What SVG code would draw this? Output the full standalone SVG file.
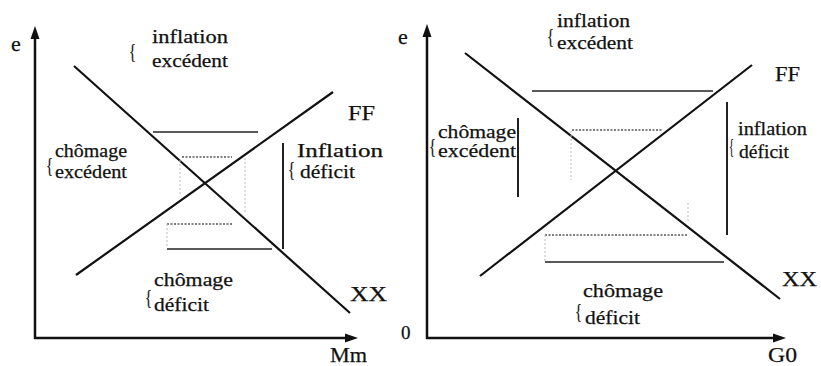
<svg xmlns="http://www.w3.org/2000/svg" width="821" height="366" viewBox="0 0 821 366">
<style>
text{font-family:"Liberation Serif","Times New Roman",serif;fill:#111;stroke:#111;stroke-width:0.25;font-size:19px}
.br{font-size:22px}
.lab{font-size:21px}
.ax{font-size:22px}
.sm{font-size:18px}
.axis{stroke:#111;stroke-width:2.5;fill:none}
.head{fill:#111;stroke:none}
.curve{stroke:#111;stroke-width:2.2;fill:none}
.solid{stroke:#222;stroke-width:1.6;fill:none}
.vert{stroke:#222;stroke-width:2;fill:none}
.dot{stroke:#555;stroke-width:1.4;stroke-dasharray:2 1.5;fill:none}
.faint{stroke:#bbb;stroke-width:1;stroke-dasharray:2 2;fill:none}
</style>
<rect width="821" height="366" fill="#fff"/>

<g id="panel-left">
  <g id="left-axes">
    <line class="axis" x1="35" y1="339" x2="35" y2="36"/>
    <polygon class="head" points="35,26 30.5,39 39.5,39"/>
    <line class="axis" x1="34" y1="338" x2="348" y2="338"/>
    <polygon class="head" points="358,338 345,333.5 345,342.5"/>
    <text class="ax" x="11" y="51">e</text>
    <text class="ax" x="330" y="362" textLength="37" lengthAdjust="spacingAndGlyphs">Mm</text>
  </g>
  <g id="left-curves">
    <line class="curve" x1="74" y1="66" x2="350" y2="313"/>
    <line class="curve" x1="76" y1="275" x2="333" y2="92"/>
    <text class="lab" x="348" y="120" textLength="27" lengthAdjust="spacingAndGlyphs">FF</text>
    <text class="lab" x="350" y="301" textLength="37" lengthAdjust="spacingAndGlyphs">XX</text>
  </g>
  <g id="left-lines">
    <line class="solid" x1="153" y1="132" x2="258" y2="132"/>
    <line class="dot" x1="182" y1="157" x2="232" y2="157"/>
    <line class="faint" x1="180" y1="160" x2="180" y2="195"/>
    <line class="faint" x1="245" y1="158" x2="245" y2="214"/>
    <line class="dot" x1="167" y1="224" x2="232" y2="224"/>
    <line class="faint" x1="167" y1="224" x2="167" y2="248"/>
    <line class="solid" x1="167" y1="249" x2="272" y2="249"/>
    <line class="vert" x1="283" y1="143" x2="283" y2="249"/>
  </g>
  <g id="left-label-top">
    <text class="br" x="129" y="58" textLength="7" lengthAdjust="spacingAndGlyphs">{</text>
    <text x="152" y="43" textLength="76" lengthAdjust="spacingAndGlyphs">inflation</text>
    <text x="152" y="67" textLength="76" lengthAdjust="spacingAndGlyphs">excédent</text>
  </g>
  <g id="left-label-left">
    <text class="br" x="46" y="172" textLength="7" lengthAdjust="spacingAndGlyphs">{</text>
    <text x="55" y="157" textLength="72" lengthAdjust="spacingAndGlyphs">chômage</text>
    <text x="55" y="178" textLength="72" lengthAdjust="spacingAndGlyphs">excédent</text>
  </g>
  <g id="left-label-right">
    <text class="br" x="288" y="176" textLength="7" lengthAdjust="spacingAndGlyphs">{</text>
    <text x="297" y="157" textLength="86" lengthAdjust="spacingAndGlyphs">Inflation</text>
    <text x="300" y="178" textLength="55" lengthAdjust="spacingAndGlyphs">déficit</text>
  </g>
  <g id="left-label-bottom">
    <text class="br" x="145" y="304" textLength="7" lengthAdjust="spacingAndGlyphs">{</text>
    <text x="154" y="286" textLength="79" lengthAdjust="spacingAndGlyphs">chômage</text>
    <text x="154" y="311" textLength="55" lengthAdjust="spacingAndGlyphs">déficit</text>
  </g>
</g>

<g id="panel-right">
  <g id="right-axes">
    <line class="axis" x1="427" y1="339" x2="427" y2="34"/>
    <polygon class="head" points="427,24 422.5,37 431.5,37"/>
    <line class="axis" x1="426" y1="338" x2="776" y2="338"/>
    <polygon class="head" points="786,338 773,333.5 773,342.5"/>
    <text class="ax" x="398" y="44">e</text>
    <text x="401" y="339">0</text>
    <text class="ax" x="768" y="362" textLength="29" lengthAdjust="spacingAndGlyphs">G0</text>
  </g>
  <g id="right-curves">
    <line class="curve" x1="465" y1="53" x2="780" y2="299"/>
    <line class="curve" x1="480" y1="276" x2="752" y2="65"/>
    <text class="lab" x="775" y="81" textLength="25" lengthAdjust="spacingAndGlyphs">FF</text>
    <text class="lab" x="782" y="286" textLength="35" lengthAdjust="spacingAndGlyphs">XX</text>
  </g>
  <g id="right-lines">
    <line class="solid" x1="532" y1="91" x2="713" y2="91"/>
    <line class="dot" x1="572" y1="130" x2="663" y2="130"/>
    <line class="faint" x1="571" y1="131" x2="571" y2="180"/>
    <line class="faint" x1="688" y1="203" x2="688" y2="222"/>
    <line class="dot" x1="545" y1="235" x2="688" y2="235"/>
    <line class="faint" x1="545" y1="235" x2="545" y2="261"/>
    <line class="solid" x1="545" y1="262" x2="724" y2="262"/>
    <line class="vert" x1="518" y1="118" x2="518" y2="197"/>
    <line class="vert" x1="727" y1="102" x2="727" y2="235"/>
  </g>
  <g id="right-label-top">
    <text class="br" x="547" y="43" textLength="7" lengthAdjust="spacingAndGlyphs">{</text>
    <text class="sm" x="557" y="27" textLength="73" lengthAdjust="spacingAndGlyphs">inflation</text>
    <text class="sm" x="557" y="49" textLength="76" lengthAdjust="spacingAndGlyphs">excédent</text>
  </g>
  <g id="right-label-left">
    <text class="br" x="429" y="153" textLength="7" lengthAdjust="spacingAndGlyphs">{</text>
    <text x="438" y="138" textLength="78" lengthAdjust="spacingAndGlyphs">chômage</text>
    <text x="438" y="157" textLength="78" lengthAdjust="spacingAndGlyphs">excédent</text>
  </g>
  <g id="right-label-right">
    <text class="br" x="729" y="153" textLength="5" lengthAdjust="spacingAndGlyphs">{</text>
    <text class="sm" x="738" y="135" textLength="69" lengthAdjust="spacingAndGlyphs">inflation</text>
    <text class="sm" x="739" y="158" textLength="50" lengthAdjust="spacingAndGlyphs">déficit</text>
  </g>
  <g id="right-label-bottom">
    <text class="br" x="575" y="318" textLength="7" lengthAdjust="spacingAndGlyphs">{</text>
    <text x="583" y="297" textLength="80" lengthAdjust="spacingAndGlyphs">chômage</text>
    <text x="585" y="324" textLength="55" lengthAdjust="spacingAndGlyphs">déficit</text>
  </g>
</g>
</svg>
